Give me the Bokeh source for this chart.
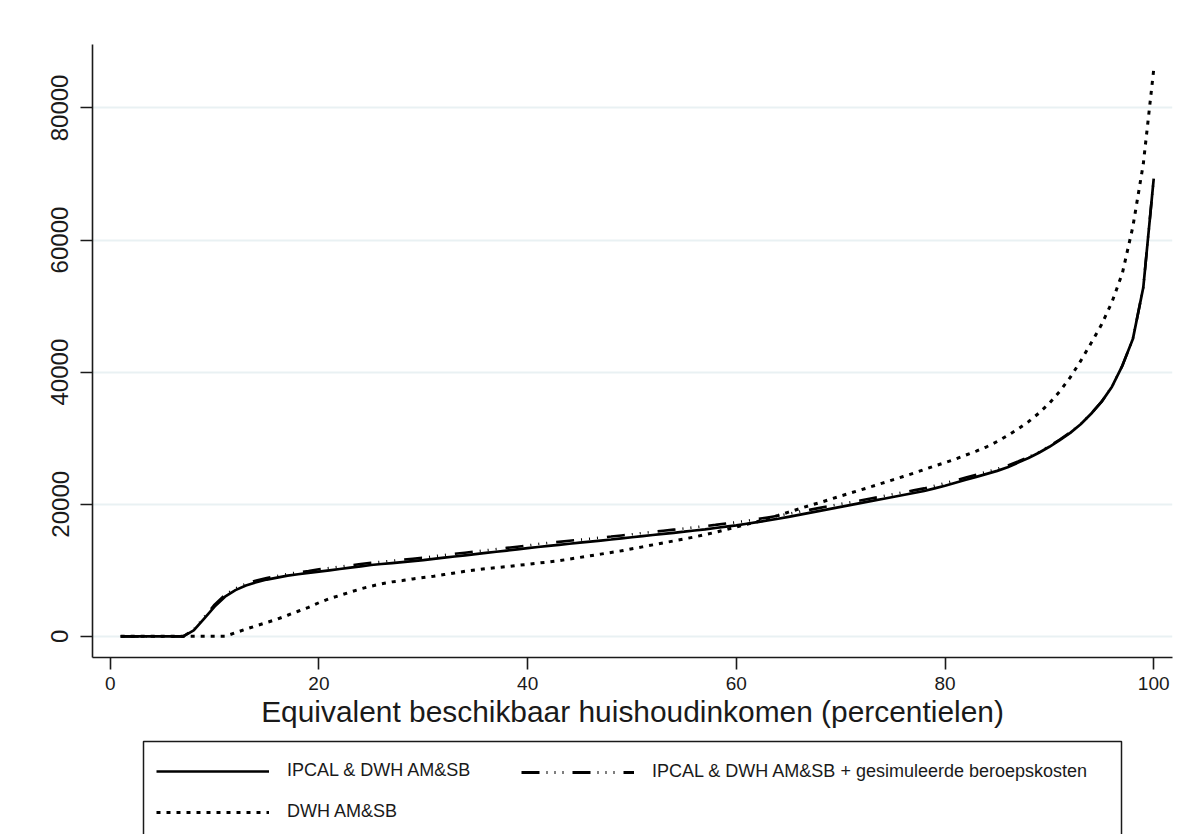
from bokeh.plotting import figure
from bokeh.models import Range1d, FixedTicker, Legend, LegendItem, BoxAnnotation
from bokeh.layouts import column
from bokeh.embed import file_html
from bokeh.resources import INLINE

# ---------------- data ----------------
percentiles = list(range(1, 101))

# IPCAL & DWH AM&SB (solid)
ipcal = [0, 0, 0, 0, 0, 0, 0, 900, 2700, 4500,
         6000, 7000, 7700, 8200, 8600, 8900, 9200, 9400, 9600, 9800,
         10000, 10200, 10400, 10600, 10800, 10950, 11100, 11250, 11400, 11550,
         11730, 11910, 12090, 12270, 12450, 12630, 12810, 12990, 13170, 13350,
         13530, 13700, 13860, 14020, 14180, 14340, 14500, 14660, 14830, 15000,
         15170, 15340, 15510, 15680, 15850, 16030, 16210, 16400, 16600, 16800,
         17050, 17300, 17550, 17800, 18100, 18400, 18700, 19000, 19300, 19600,
         19900, 20200, 20500, 20800, 21100, 21400, 21700, 22000, 22400, 22800,
         23250, 23700, 24150, 24600, 25050, 25600, 26300, 27000, 27800, 28700,
         29700, 30800, 32100, 33700, 35500, 37800, 41000, 45000, 52800, 69300]

# IPCAL & DWH AM&SB + gesimuleerde beroepskosten (long dash - dots)
ipcal_sim = [0, 0, 0, 0, 0, 0, 0, 1000, 2900, 4800,
             6300, 7250, 7950, 8450, 8850, 9150, 9450, 9700, 9900, 10150,
             10350, 10550, 10750, 10950, 11150, 11300, 11450, 11600, 11750, 11900,
             12130, 12310, 12490, 12670, 12850, 13030, 13210, 13390, 13570, 13750,
             13980, 14150, 14310, 14470, 14630, 14790, 14950, 15110, 15280, 15450,
             15650, 15820, 15990, 16160, 16330, 16510, 16690, 16880, 17080, 17280,
             17500, 17750, 18000, 18250, 18550, 18850, 19150, 19450, 19750, 20050,
             20300, 20600, 20900, 21200, 21500, 21800, 22100, 22400, 22800, 23200,
             23620, 24050, 24480, 24900, 25350, 25850, 26480, 27150, 27920, 28800,
             29800, 30880, 32150, 33730, 35520, 37800, 41000, 45000, 52800, 69300]

# DWH AM&SB (dotted)
dwh = [0, 0, 0, 0, 0, 0, 0, 0, 0, 0,
       0, 550, 1100, 1600, 2100, 2600, 3200, 3800, 4400, 5100,
       5700, 6200, 6700, 7200, 7600, 7950, 8250, 8450, 8700, 8900,
       9100, 9350, 9600, 9850, 10050, 10250, 10400, 10550, 10750, 10900,
       11100, 11250, 11450, 11700, 11950, 12200, 12450, 12700, 12950, 13250,
       13550, 13850, 14150, 14450, 14750, 15050, 15400, 15750, 16150, 16550,
       16950, 17350, 17850, 18300, 18800, 19300, 19800, 20250, 20750, 21250,
       21730, 22210, 22700, 23200, 23700, 24200, 24700, 25250, 25800, 26300,
       26850, 27450, 28050, 28700, 29500, 30400, 31400, 32500, 33800, 35300,
       37100, 39200, 41700, 44400, 47200, 50600, 55000, 62000, 71500, 85800]

x_ticks = [0, 20, 40, 60, 80, 100]
y_ticks = [0, 20000, 40000, 60000, 80000]
y_tick_labels = ["0", "20000", "40000", "60000", "80000"]

x_title = "Equivalent beschikbaar huishoudinkomen (percentielen)"
labels = ["IPCAL & DWH AM&SB",
          "IPCAL & DWH AM&SB + gesimuleerde beroepskosten",
          "DWH AM&SB"]

FONT = "Liberation Sans"
INK = "#1a1a1a"
W = 1187
FRAME_L, FRAME_R = 92, 1172
DASH_DOTS = "18 7 1 7 1 7 1 9"

# ---------------- main chart ----------------
p = figure(width=W, height=730, output_backend="svg", toolbar_location=None,
           x_range=Range1d(-1.7, 101.8), y_range=Range1d(-3200, 89600),
           min_border_left=FRAME_L, min_border_right=W - FRAME_R, min_border_top=44,
           min_border_bottom=73)
p.outline_line_color = None
p.background_fill_color = "white"
p.border_fill_color = "white"

p.xgrid.visible = False
p.ygrid.ticker = FixedTicker(ticks=y_ticks)
p.ygrid.grid_line_color = "#e9f1f3"
p.ygrid.grid_line_width = 2

for ax in (p.xaxis[0], p.yaxis[0]):
    ax.axis_line_color = INK
    ax.axis_line_width = 1.6
    ax.major_tick_line_color = INK
    ax.major_tick_line_width = 1.6
    ax.major_tick_in = 0
    ax.major_tick_out = 12
    ax.minor_tick_line_color = None
    ax.major_label_text_font = FONT
    ax.major_label_text_color = INK

p.xaxis.ticker = FixedTicker(ticks=x_ticks)
p.xaxis.major_label_text_font_size = "19px"
p.xaxis.major_label_standoff = 7
p.xaxis.axis_label = x_title
p.xaxis.axis_label_text_font = FONT
p.xaxis.axis_label_text_font_size = "29.9px"
p.xaxis.axis_label_text_font_style = "normal"
p.xaxis.axis_label_text_color = INK
p.xaxis.axis_label_standoff = 2

p.yaxis.ticker = FixedTicker(ticks=y_ticks)
p.yaxis.major_label_overrides = {t: s for t, s in zip(y_ticks, y_tick_labels)}
p.yaxis.major_label_orientation = "vertical"
p.yaxis.major_label_text_font_size = "24px"
p.yaxis.major_label_standoff = 12

p.line(percentiles, ipcal, line_color="black", line_width=2.7)
p.line(percentiles, ipcal_sim, line_color="black", line_width=2.6,
       line_dash=DASH_DOTS)
p.line(percentiles, dwh, line_color="black", line_width=3, line_dash="4 6")

# ---------------- legend box (ranges in page pixels) ----------------
lf = figure(width=W, height=104, output_backend="svg", toolbar_location=None,
            x_range=Range1d(FRAME_L, FRAME_R), y_range=Range1d(834, 730),
            x_axis_location=None, y_axis_location=None,
            min_border_left=FRAME_L, min_border_right=W - FRAME_R,
            min_border_top=0, min_border_bottom=0)
lf.grid.visible = False
lf.outline_line_color = None
lf.background_fill_color = "white"
lf.border_fill_color = "white"

lf.add_layout(BoxAnnotation(left=143, right=1121, top=741, bottom=845,
                            fill_alpha=0, line_color=INK, line_alpha=1,
                            line_width=1.5))

nan = float("nan")
s1 = lf.line([nan], [nan], line_color="black", line_width=2.7)
s2 = lf.line([nan], [nan], line_color="black", line_width=3, line_dash=DASH_DOTS)
s3 = lf.line([nan], [nan], line_color="black", line_width=3, line_dash="4 6")

common = dict(glyph_width=113, glyph_height=20, label_height=20, label_standoff=18,
              label_text_font=FONT, label_text_font_size="18px",
              label_text_color=INK, padding=0, margin=0, spacing=20,
              border_line_color=None, background_fill_alpha=0)

leg_a = Legend(items=[LegendItem(label=labels[0], renderers=[s1]),
                      LegendItem(label=labels[2], renderers=[s3])],
               location=(64, 12), orientation="vertical", **common)
leg_b = Legend(items=[LegendItem(label=labels[1], renderers=[s2])],
               location=(429, 52), orientation="vertical", **common)
lf.add_layout(leg_a)
lf.add_layout(leg_b)

layout = column(p, lf, spacing=0)

with open("out.html", "w") as f:
    f.write(file_html(layout, INLINE))
